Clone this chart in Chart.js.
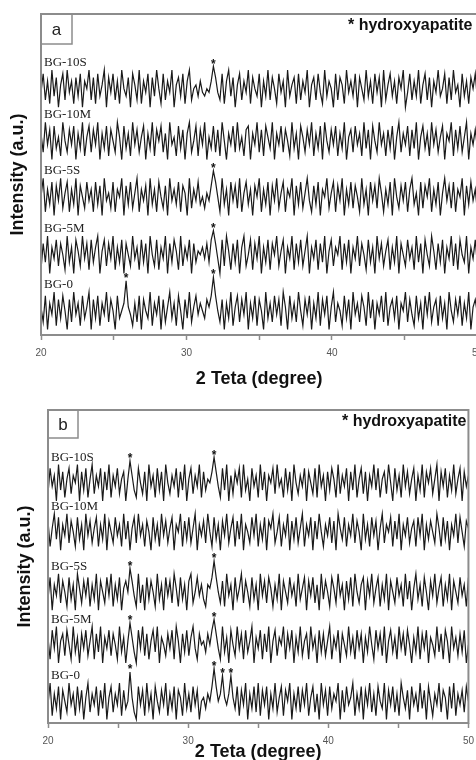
<!DOCTYPE html>
<html>
<head>
<meta charset="utf-8">
<script src="https://cdn.jsdelivr.net/npm/chart.js@4.4.1/dist/chart.umd.min.js"></script>
<style>
  body { margin: 0; background: #fff; width: 476px; height: 760px; overflow: hidden; position: relative; }
  canvas { position: absolute; left: 0; }
  #chartA { top: 0; }
  #chartB { top: 395px; }
</style>
</head>
<body>
<canvas id="chartA" width="490" height="392"></canvas>
<canvas id="chartB" width="481" height="370"></canvas>
<script>
// 2-theta scan, 20-50 deg in 0.15 deg steps
const START = 20, STEP = 0.15;
const names = ['BG-10S', 'BG-10M', 'BG-5S', 'BG-5M', 'BG-0'];

// panel a
const a10S = [
  4,9,2,7,1,10,3,8,0,6,9,2,10,4,7,1,8,3,9,0,7,5,10,2,8,
  1,9,3,6,10,0,8,4,9,2,7,1,10,5,3,8,0,9,6,2,10,1,7,4,9,
  0,8,3,10,5,1,9,2,7,4,10,0,6,8,3,9,1,7,10,2,5,6,3,7,4,
  3,5,4,7,11,8,4,2,9,1,7,10,3,8,0,6,9,2,7,4,10,1,8,5,3,
  9,0,7,3,10,2,8,5,1,9,4,7,0,10,3,6,8,1,9,2,7,4,10,0,6,
  8,2,9,4,1,10,3,7,5,0,9,2,8,6,1,10,4,7,3,9,0,8,5,2,10,
  3,7,1,9,4,8,0,10,2,6,9,3,7,1,8,5,10,0,4,9,2,7,3,10,1,
  6,9,2,8,0,7,4,10,3,5,9,1,8,2,10,4,6,0,9,3,7,1,8,5,9,
  2];
const a10M = [
  7,2,10,4,8,0,9,3,6,1,10,5,2,8,4,9,0,7,3,10,1,6,9,2,8,
  4,10,0,7,3,9,1,8,5,2,10,6,0,9,3,7,1,10,4,8,2,6,9,0,7,
  3,10,1,8,5,9,2,7,0,10,4,6,1,9,3,8,0,7,10,2,5,9,1,8,4,
  10,0,6,3,9,2,8,1,10,5,0,7,4,9,2,10,3,6,1,8,9,0,7,4,10,
  2,8,1,9,6,3,10,0,7,4,9,2,8,5,1,10,3,7,0,9,6,2,8,4,10,
  1,7,3,9,0,10,5,2,8,4,9,1,7,3,10,0,6,8,2,9,4,7,1,10,3,
  8,0,9,5,2,10,4,7,1,8,3,9,0,6,10,2,7,4,9,1,8,3,10,0,6,
  9,3,7,1,10,4,8,2,6,9,0,7,5,10,1,8,3,9,2,6,10,0,7,4,8,
  3];
const a5S = [
  5,10,1,7,3,9,0,8,4,10,2,6,9,1,7,3,10,0,8,5,2,9,4,7,1,
  9,3,8,0,10,4,6,2,9,1,7,5,10,0,8,3,9,2,6,10,1,7,4,8,0,
  10,3,7,1,9,5,2,8,0,10,4,7,3,9,1,8,6,0,10,2,7,4,9,3,5,
  2,6,4,8,12,9,5,1,10,3,7,0,9,4,8,2,10,1,6,9,3,7,0,8,5,
  10,1,7,3,9,0,8,4,10,2,6,9,1,7,5,10,0,8,3,9,2,6,10,4,1,
  8,3,9,0,7,5,10,2,6,9,1,8,4,10,0,7,3,9,2,8,5,1,10,3,7,
  0,9,4,8,2,10,6,1,7,3,9,0,10,5,2,8,4,9,1,7,10,3,6,0,9,
  2,8,5,10,1,7,3,9,0,6,10,4,8,2,9,1,7,5,10,0,8,3,9,4,7,
  1];
const a5M = [
  1,8,3,10,0,7,4,9,2,8,5,1,10,3,7,0,9,6,2,10,4,8,1,9,3,
  7,10,0,6,9,2,8,4,10,1,7,3,9,0,8,5,2,10,4,7,1,9,3,8,0,
  10,5,2,9,1,7,4,10,0,8,3,9,6,1,10,2,7,4,9,0,8,3,6,5,7,
  4,8,3,9,11.5,8,4,0,9,2,10,6,1,8,3,9,0,7,10,2,5,9,1,8,4,
  10,0,7,3,9,1,8,5,10,2,6,9,0,7,4,10,1,8,3,9,2,6,10,0,7,
  4,9,1,8,3,10,0,6,9,2,7,5,10,1,8,3,9,0,7,4,10,2,8,5,1,
  9,3,7,0,10,4,8,2,6,9,1,7,3,10,0,8,5,2,9,4,7,1,10,3,8,
  0,9,5,2,10,6,1,8,3,9,0,7,4,10,2,8,1,9,5,3,10,0,7,4,9,
  2];
const a0 = [
  6,2,9,0,7,4,10,1,8,3,9,5,0,8,2,10,4,7,1,9,3,6,10,0,8,
  3,9,1,7,4,10,2,8,5,0,9,3,5,7,13,6,4,1,7,2,9,0,8,5,3,
  10,1,7,4,9,0,8,2,6,10,3,7,1,9,5,0,8,3,10,2,6,9,4,7,5,
  3,8,6,9,14,9,5,2,8,0,7,3,10,1,6,9,2,8,4,10,0,7,3,9,1,
  8,5,0,10,3,7,2,9,4,8,1,10,6,0,9,3,7,2,10,5,1,8,4,9,0,
  7,3,10,1,8,4,9,0,6,10,2,7,5,1,9,3,8,0,10,4,7,2,9,6,1,
  10,3,8,0,7,4,9,2,10,1,6,8,3,9,0,7,5,10,2,8,4,1,9,3,7,
  0,9,4,10,2,6,8,1,9,3,7,0,10,5,2,8,4,9,1,7,3,10,0,6,8,
  4];

// panel b
const b10S = [
  2,9,4,7,0,10,3,8,1,6,9,2,7,5,10,0,8,3,9,1,6,10,2,7,4,
  9,0,8,3,10,1,7,4,9,2,6,8,0,6,11,7,3,1,9,5,2,8,0,10,4,
  7,1,9,3,8,0,10,5,2,7,4,9,1,8,3,10,0,6,9,2,7,4,10,1,8,
  3,6,5,8,12,8,4,1,9,3,10,0,7,2,8,5,9,1,10,3,6,0,9,4,7,
  1,10,3,8,0,7,5,9,2,10,4,6,1,9,3,8,0,10,5,2,7,4,9,0,8,
  5,2,9,1,10,4,7,0,8,3,9,6,1,10,2,7,4,9,0,8,3,10,1,6,9,
  2,8,0,7,4,10,3,9,1,6,8,2,10,5,0,9,3,7,1,10,4,8,2,6,9,
  0,7,3,10,1,8,5,9,2,6,10,0,8,4,9,1,7,3,10,2,6,9,0,8,4,
  7];
const b10M = [
  8,1,6,10,3,9,0,7,4,10,2,8,5,1,9,3,7,0,10,4,8,2,6,9,1,
  7,3,10,0,8,5,2,9,4,7,1,10,3,8,0,6,9,2,10,4,7,1,8,5,0,
  9,3,7,1,10,4,8,2,6,9,0,7,5,10,1,8,3,9,2,6,10,0,7,4,8,
  2,10,5,1,9,3,7,0,8,4,10,2,6,9,1,8,3,10,0,7,5,2,9,4,10,
  1,7,3,9,0,8,6,10,2,5,9,1,7,4,10,0,8,3,9,2,6,10,1,7,4,
  9,0,8,3,10,5,1,7,4,9,2,8,0,10,6,3,9,1,7,4,10,2,8,5,0,
  10,3,7,1,9,4,8,0,6,10,2,7,5,9,1,8,3,10,0,7,4,9,2,6,8,
  1,9,4,10,0,7,3,8,5,2,10,6,1,9,3,8,0,7,4,10,2,9,5,1,8,
  6];
const b5S = [
  3,9,0,7,4,10,2,8,5,1,9,3,7,0,10,6,2,8,4,9,1,7,3,10,0,
  8,5,2,9,4,10,1,7,3,9,0,6,8,5,11.5,8,4,1,10,2,7,0,9,3,8,
  5,1,10,3,7,0,9,4,8,2,10,6,1,9,3,7,0,8,10,2,5,9,4,7,3,
  1,7,6,9,13.5,9,5,2,8,1,10,4,7,0,9,3,6,10,2,8,5,1,9,3,7,
  0,10,4,8,2,9,6,1,7,3,10,0,8,5,2,9,4,7,1,10,3,6,9,0,8,
  4,9,2,7,0,10,3,8,5,1,9,6,2,10,4,7,0,8,3,9,1,10,5,2,7,
  9,0,8,4,10,2,6,9,1,7,3,10,0,8,5,2,9,4,7,1,10,3,8,0,6,
  10,3,7,1,9,5,0,8,4,10,2,6,9,1,7,3,10,0,8,5,2,9,4,7,1,
  9];
const b5M = [
  7,1,9,4,10,0,6,8,2,9,5,1,10,3,7,0,8,4,9,2,6,10,1,8,3,
  10,0,7,4,9,2,8,5,1,10,3,7,0,6,11,7,3,0,9,4,10,2,8,1,6,
  9,3,10,0,7,5,2,8,4,9,1,10,6,0,8,3,9,2,7,10,4,1,8,5,6,
  3,8,5,9,12,8,4,1,10,3,7,0,9,5,2,10,4,8,1,9,3,6,10,0,7,
  4,9,1,8,3,10,0,6,9,2,7,5,10,1,8,4,9,0,7,3,10,2,6,8,1,
  10,4,7,0,9,3,8,2,6,10,1,7,4,9,0,8,5,2,10,3,7,1,9,4,8,
  0,7,3,10,5,1,9,4,8,2,10,0,6,9,3,7,1,10,4,8,2,9,5,0,7,
  3,10,1,8,4,9,0,7,5,2,10,3,8,1,9,6,0,10,4,7,2,8,3,9,0,
  5];
const b0 = [
  4,10,1,7,3,9,0,8,5,2,10,4,7,1,9,3,8,0,6,10,2,7,4,9,1,
  8,3,10,0,6,9,2,7,4,10,1,8,3,5,13,6,2,0,9,4,8,1,10,3,7,
  0,9,5,2,8,4,10,1,7,3,9,0,8,6,1,10,3,7,2,9,4,8,0,5,6,
  3,7,5,9,14,9,5,7,12,6,4,7,12,6,3,9,1,8,4,10,0,7,3,9,2,
  10,1,8,4,9,0,7,3,10,2,6,9,1,8,5,10,0,7,3,9,2,8,4,10,1,
  6,9,2,7,0,10,4,8,1,9,3,7,5,10,0,8,2,9,4,6,10,1,7,3,9,
  0,8,4,10,2,7,1,9,5,3,10,0,8,4,9,2,7,1,10,6,3,8,0,9,4,
  7,2,10,3,8,0,9,5,1,7,4,10,2,8,6,0,9,3,10,1,7,4,8,2,9,
  5];

// hydroxyapatite reflections (deg) marked with * per pattern
const peaksA = [[31.85], [], [31.85], [31.85], [25.85, 31.85]];
const peaksB = [[25.85, 31.85], [], [25.85, 31.85], [25.85, 31.85], [25.85, 31.85, 32.45, 33.05]];

// vertical shift of each stacked pattern
const offsetsA = [61, 47, 32, 16.5, 1.5];
const offsetsB = [61, 47.5, 31, 16.5, 1];

const angles = a10S.map((_, i) => +(START + i * STEP).toFixed(2));
const GRAY = '#8c8c8c';

// frame, panel letter, key, sample names and peak marks
const annotate = {
  id: 'annotate',
  afterDatasetsDraw(chart, args, o) {
    const { ctx, chartArea: area, scales: { x, y } } = chart;
    ctx.save();
    ctx.strokeStyle = GRAY;
    ctx.lineWidth = 2;
    ctx.strokeRect(area.left, area.top, area.right - area.left, area.bottom - area.top);

    ctx.lineWidth = 1.5;
    ctx.strokeRect(area.left, area.top, o.box[0], o.box[1]);
    ctx.fillStyle = '#222';
    ctx.font = '17px "Liberation Sans"';
    ctx.textAlign = 'center';
    ctx.textBaseline = 'middle';
    ctx.fillText(o.letter, area.left + o.box[0] / 2, area.top + o.box[1] / 2 + 1);

    ctx.fillStyle = '#111';
    ctx.font = 'bold 16px "Liberation Sans"';
    ctx.textAlign = 'right';
    ctx.fillText('* hydroxyapatite', area.right - o.keyInset, area.top + 12);

    o.series.forEach((vals, i) => {
      ctx.fillStyle = '#222';
      ctx.font = '13px "Liberation Serif"';
      ctx.textAlign = 'left';
      ctx.fillText(names[i], area.left + 3, y.getPixelForValue(o.offsets[i] + 12));
      ctx.fillStyle = '#111';
      ctx.font = 'bold 12px "Liberation Sans"';
      ctx.textAlign = 'center';
      o.peaks[i].forEach(deg => {
        const v = vals[Math.round((deg - START) / STEP)];
        ctx.fillText('*', x.getPixelForValue(deg), y.getPixelForValue(o.offsets[i] + v) - 2);
      });
    });
    ctx.restore();
  }
};

function drawPanel(id, p) {
  new Chart(document.getElementById(id), {
    type: 'line',
    data: {
      datasets: p.series.map((vals, i) => ({
        data: vals.map((v, j) => ({ x: angles[j], y: p.offsets[i] + v })),
        borderColor: '#1a1a1a',
        borderWidth: 1.2,
        pointRadius: 0,
        tension: 0
      }))
    },
    options: {
      responsive: false,
      animation: false,
      layout: { padding: p.padding },
      plugins: {
        legend: { display: false },
        tooltip: { enabled: false },
        annotate: p
      },
      scales: {
        x: {
          type: 'linear',
          min: 20,
          max: 50,
          grid: { drawOnChartArea: false, drawTicks: true, tickLength: 5, color: GRAY, tickWidth: 1.5 },
          border: { display: false },
          ticks: {
            stepSize: 5,
            padding: 7,
            color: '#555',
            font: { family: 'Liberation Sans', size: 10 },
            callback: v => (v % 10 === 0 ? v : '')
          },
          title: {
            display: true,
            text: '2 Teta (degree)',
            color: '#111',
            font: { family: 'Liberation Sans', size: 18, weight: 'bold' },
            padding: p.xTitlePad
          }
        },
        y: {
          min: 0,
          max: 86,
          grid: { display: false },
          border: { display: false },
          ticks: { display: false },
          title: {
            display: true,
            text: 'Intensity (a.u.)',
            color: '#111',
            font: { family: 'Liberation Sans', size: 18, weight: 'bold' },
            padding: p.yTitlePad
          }
        }
      }
    },
    plugins: [annotate]
  });
}

drawPanel('chartA', {
  series: [a10S, a10M, a5S, a5M, a0],
  offsets: offsetsA,
  peaks: peaksA,
  letter: 'a',
  box: [31, 30],
  keyInset: 5,
  padding: { left: 4, top: 14, right: 11, bottom: 2.2 },
  xTitlePad: { top: 2.2, bottom: 0 },
  yTitlePad: { top: 3.2, bottom: 4.2 }
});

drawPanel('chartB', {
  series: [b10S, b10M, b5S, b5M, b0],
  offsets: offsetsB,
  peaks: peaksB,
  letter: 'b',
  box: [30, 28],
  keyInset: 2,
  padding: { left: 4, top: 15, right: 3, bottom: 2.2 },
  xTitlePad: { top: -12.8, bottom: 0 },
  yTitlePad: { top: 10.2, bottom: 4.2 }
});
</script>
</body>
</html>
